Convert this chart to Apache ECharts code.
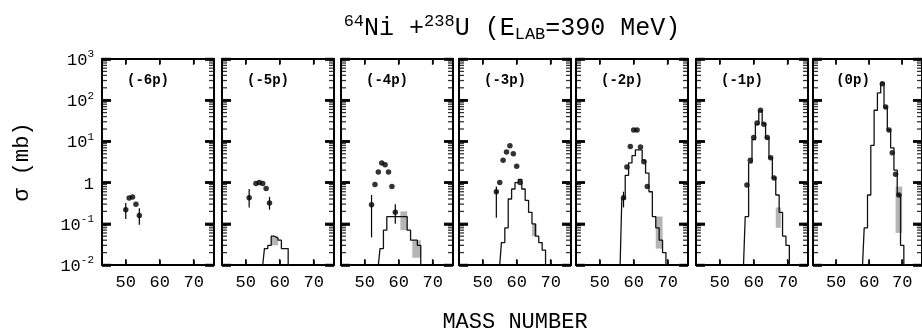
<!DOCTYPE html>
<html>
<head>
<meta charset="utf-8">
<script src="https://cdn.jsdelivr.net/npm/echarts@6/dist/echarts.min.js"></script>
<style>
    html, body { margin: 0; background: #fff; }
    #chart { width: 922px; height: 335px; }
</style>
</head>
<body>
<div id="chart"></div>
<script>
// channels, one panel each
const panelNames = ['(-6p)', '(-5p)', '(-4p)', '(-3p)', '(-2p)', '(-1p)', '(0p)']
const xTicks = [50, 60, 70]
const yTicks = [0.01, 0.1, 1, 10, 100, 1000]

// measured cross sections [A, sigma (mb)]
const exp6p = [[50, 0.22], [51, 0.42], [52, 0.45], [53, 0.3], [54, 0.16]]
const exp5p = [[51, 0.43], [53, 0.95], [54, 1.0], [55, 0.95], [56, 0.72], [57, 0.32]]
const exp4p = [[52, 0.29], [53, 0.9], [54, 1.8], [55, 3.0], [56, 2.7], [57, 1.8], [58, 0.8], [59, 0.19]]
const exp3p = [[54, 0.6], [55, 1.0], [56, 3.5], [57, 5.5], [58, 7.8], [59, 5.0], [60, 2.5], [61, 1.0]]
const exp2p = [[57, 0.43], [58, 2.4], [59, 7.5], [60, 19], [61, 19], [62, 7.3], [63, 3.2], [64, 0.8]]
const exp1p = [[58, 0.87], [59, 3.5], [60, 12.5], [61, 28], [62, 57], [63, 26], [64, 12.5], [65, 4], [66, 1.3]]
const exp0p = [[64, 250], [65, 68], [66, 19], [67, 5.3], [68, 1.6], [69, 0.5]]

// error bars [A, low, high]
const err6p = [[50, 0.13, 0.32], [54, 0.095, 0.24]]
const err5p = [[51, 0.25, 0.7], [57, 0.22, 0.45]]
const err4p = [[52, 0.047, 0.5], [59, 0.1, 0.3]]
const err3p = [[54, 0.14, 0.8]]
const err2p = [[57, 0.25, 0.6]]
const err1p = []
const err0p = []

// calculation histograms [A, sigma (mb)]
const calc6p = []
const calc5p = [[56, 0.025], [57, 0.03], [58, 0.05], [59, 0.045], [60, 0.04], [61, 0.025], [62, 0.025]]
const calc4p = [[55, 0.025], [56, 0.07], [57, 0.15], [58, 0.15], [59, 0.15], [60, 0.15], [61, 0.15], [62, 0.15], [63, 0.07], [64, 0.04], [65, 0.04], [66, 0.03]]
const calc3p = [[56, 0.035], [57, 0.08], [58, 0.4], [59, 0.7], [60, 1.0], [61, 1.2], [62, 0.7], [63, 0.37], [64, 0.19], [65, 0.1], [66, 0.05], [67, 0.035], [68, 0.023]]
const calc2p = [[57, 0.4], [58, 1.5], [59, 3.0], [60, 4.5], [61, 6.2], [62, 6.2], [63, 3.5], [64, 1.7], [65, 0.6], [66, 0.15], [67, 0.08], [68, 0.04], [69, 0.02]]
const calc1p = [[58, 0.15], [59, 3], [60, 11], [61, 26], [62, 55], [63, 27], [64, 12], [65, 4], [66, 1.3], [67, 0.5], [68, 0.19], [69, 0.05], [70, 0.03]]
const calc0p = [[59, 0.08], [60, 0.5], [61, 8], [62, 57], [63, 150], [64, 260], [65, 68], [66, 19], [67, 7], [68, 2], [69, 0.5], [70, 0.03]]

// shaded spread of the calculation [A from, A to, low, high]
const band6p = []
const band5p = [[57.5, 59.5, 0.03, 0.05]]
const band4p = [[60.5, 62.5, 0.07, 0.2], [64, 66.5, 0.015, 0.04]]
const band3p = [[64.5, 66, 0.05, 0.1]]
const band2p = [[66.5, 68.5, 0.025, 0.15]]
const band1p = [[66.5, 68, 0.08, 0.25]]
const band0p = [[68, 70, 0.06, 0.8]]

const expData = [exp6p, exp5p, exp4p, exp3p, exp2p, exp1p, exp0p]
const errData = [err6p, err5p, err4p, err3p, err2p, err1p, err0p]
const calcData = [calc6p, calc5p, calc4p, calc3p, calc2p, calc1p, calc0p]
const bandData = [band6p, band5p, band4p, band3p, band2p, band1p, band0p]

const X_MIN = 43, X_MAX = 76, Y_MIN = 0.01, Y_MAX = 1000
const lefts = [102, 222, 341, 459, 576, 696, 813]
const MONO = '"Liberation Mono", "DejaVu Sans Mono", monospace'

// minor log ticks 2..9 per decade
const yMinor = []
for (let e = -2; e < 3; e++) {
    for (let m = 2; m < 10; m++) yMinor.push(m * Math.pow(10, e))
}

function stepData(list) {
    if (!list.length) return []
    return [[list[0][0] - 1, Y_MIN]].concat(list, [[list[list.length - 1][0] + 1, Y_MIN]])
}

// frame tick marks, drawn as small rect symbols on the frame edges
function tickSeries(xi, yi, data, size, offset) {
    return {
        type: 'scatter', xAxisIndex: xi, yAxisIndex: yi,
        symbol: 'rect', symbolSize: size, symbolOffset: offset,
        itemStyle: {color: '#000'}, data: data,
        clip: false, silent: true, animation: false, z: 3
    }
}

const grids = [], xAxes = [], yAxes = [], series = [], graphics = []

lefts.forEach(function (left, i) {
    grids.push({
        left: left, top: 59, width: 112, height: 206,
        show: true, borderColor: '#000', borderWidth: 2
    })
    ;['bottom', 'top'].forEach(function (pos) {
        xAxes.push({
            type: 'value', gridIndex: i, min: X_MIN, max: X_MAX, position: pos,
            axisLine: {show: false, onZero: false}, splitLine: {show: false},
            axisTick: {show: true, inside: true, length: 5, customValues: xTicks, lineStyle: {color: '#000', width: 1.5}},
            axisLabel: {
                show: pos === 'bottom', customValues: xTicks, margin: 9,
                color: '#000', fontFamily: MONO, fontSize: 17
            }
        })
    })
    ;['left', 'right'].forEach(function (pos) {
        yAxes.push({
            type: 'log', logBase: 10, gridIndex: i, min: Y_MIN, max: Y_MAX, position: pos,
            axisLine: {show: false, onZero: false}, splitLine: {show: false},
            axisTick: {show: true, inside: true, length: 9, lineStyle: {color: '#000', width: 2.5}},
            axisLabel: {
                show: i === 0 && pos === 'left',
                margin: 8,
                color: '#000',
                formatter: function (v) {
                    const e = Math.round(Math.log10(v))
                    if (e === 0) return '{n|1}'
                    return '{n|10}{e|' + e + '}'
                },
                rich: {
                    n: {fontFamily: MONO, fontSize: 17, lineHeight: 20, verticalAlign: 'bottom'},
                    e: {fontFamily: MONO, fontSize: 11, lineHeight: 20, verticalAlign: 'top', padding: [0, 0, 6, 0]}
                }
            }
        })
    })
    const xi = 2 * i, yi = 2 * i

    series.push(tickSeries(xi, yi, yTicks.map(v => [X_MIN, v]), [9, 2.5], [4.5, 0]))
    series.push(tickSeries(xi, yi, yTicks.map(v => [X_MAX, v]), [9, 2.5], [-4.5, 0]))
    series.push(tickSeries(xi, yi, yMinor.map(v => [X_MIN, v]), [5, 1.3], [2.5, 0]))
    series.push(tickSeries(xi, yi, yMinor.map(v => [X_MAX, v]), [5, 1.3], [-2.5, 0]))
    series.push(tickSeries(xi, yi, xTicks.map(v => [v, Y_MIN]), [1.5, 6], [0, -3]))
    series.push(tickSeries(xi, yi, xTicks.map(v => [v, Y_MAX]), [1.5, 6], [0, 3]))

    series.push({
        type: 'custom', xAxisIndex: xi, yAxisIndex: yi,
        encode: {x: [0, 1], y: [2, 3]},
        data: bandData[i],
        renderItem: function (params, api) {
            const p0 = api.coord([api.value(0), api.value(3)])
            const p1 = api.coord([api.value(1), api.value(2)])
            return {
                type: 'rect',
                shape: {x: p0[0], y: p0[1], width: p1[0] - p0[0], height: p1[1] - p0[1]},
                style: {fill: '#9c9c9c', opacity: 0.75}
            }
        },
        silent: true
    })
    series.push({
        type: 'line', xAxisIndex: xi, yAxisIndex: yi,
        step: 'middle', showSymbol: false, symbol: 'none',
        lineStyle: {color: '#111', width: 1.3},
        data: stepData(calcData[i]),
        animation: false
    })
    series.push({
        type: 'custom', xAxisIndex: xi, yAxisIndex: yi,
        encode: {x: 0, y: [1, 2]},
        data: errData[i],
        renderItem: function (params, api) {
            const lo = api.coord([api.value(0), api.value(1)])
            const hi = api.coord([api.value(0), api.value(2)])
            return {
                type: 'line',
                shape: {x1: lo[0], y1: lo[1], x2: hi[0], y2: hi[1]},
                style: {stroke: '#000', lineWidth: 1.2}
            }
        },
        silent: true
    })
    series.push({
        type: 'scatter', xAxisIndex: xi, yAxisIndex: yi,
        symbol: 'circle', symbolSize: 5.5,
        itemStyle: {color: '#000'},
        data: expData[i],
        animation: false
    })
    graphics.push({
        type: 'text', x: left + (i === 6 ? 40 : 46), y: 80,
        style: {
            text: panelNames[i], fill: '#000', align: 'center', verticalAlign: 'middle',
            font: 'bold 14px ' + MONO
        }
    })
})

graphics.push({
    type: 'text', x: 512, y: 28,
    style: {
        text: '{s|64}{m|Ni +}{s|238}{m|U (E}{b|LAB}{m|=390 MeV)}',
        align: 'center', verticalAlign: 'middle', fill: '#000',
        rich: {
            m: {fontFamily: MONO, fontSize: 25, lineHeight: 30, verticalAlign: 'middle'},
            s: {fontFamily: MONO, fontSize: 17, lineHeight: 30, verticalAlign: 'top'},
            b: {fontFamily: MONO, fontSize: 17, lineHeight: 30, verticalAlign: 'bottom'}
        }
    }
})
graphics.push({
    type: 'text', x: 515, y: 322,
    style: {text: 'MASS NUMBER', fill: '#000', align: 'center', verticalAlign: 'middle', font: '22px ' + MONO}
})
graphics.push({
    type: 'text', x: 22, y: 162, rotation: Math.PI / 2,
    style: {text: 'σ (mb)', fill: '#000', align: 'center', verticalAlign: 'middle', font: '22px ' + MONO}
})

const chart = echarts.init(document.getElementById('chart'))
chart.setOption({
    backgroundColor: '#fff',
    animation: false,
    grid: grids,
    xAxis: xAxes,
    yAxis: yAxes,
    series: series,
    graphic: graphics
})
</script>
</body>
</html>
